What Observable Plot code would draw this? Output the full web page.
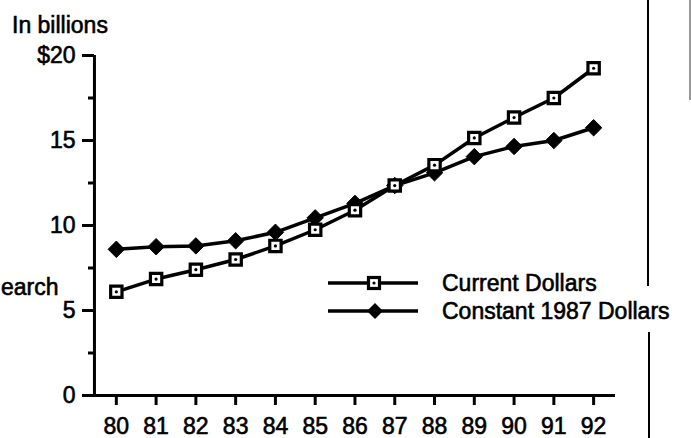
<!DOCTYPE html>
<html>
<head>
<meta charset="utf-8">
<script src="https://cdn.jsdelivr.net/npm/d3@7"></script>
<script src="https://cdn.jsdelivr.net/npm/@observablehq/plot@0.6"></script>
<style>
  html, body { margin: 0; padding: 0; background: #fff; }
  #wrap { position: relative; width: 691px; height: 438px; overflow: hidden; font-family: "Liberation Sans", Arial, sans-serif; color: #000; }
  #wrap svg { position: absolute; left: 0; top: 0; }
  #wrap svg text { stroke: #000; stroke-width: 0.6px; }
  .ov { position: absolute; -webkit-text-stroke: 0.6px #000; }
  .leg-row { position: absolute; left: 328px; height: 28px; display: flex; align-items: center; -webkit-text-stroke: 0.6px #000; }
  .leg-row span { font-size: 23px; margin-left: 24px; white-space: nowrap; line-height: 28px; }
</style>
</head>
<body>
<div id="wrap"></div>
<script>
// ---- data ----
const years = [80, 81, 82, 83, 84, 85, 86, 87, 88, 89, 90, 91, 92];
const currentDollars = [6.1, 6.85, 7.4, 8.0, 8.8, 9.75, 10.9, 12.35, 13.55, 15.15, 16.35, 17.5, 19.25];
const constant1987Dollars = [8.6, 8.75, 8.8, 9.1, 9.6, 10.45, 11.3, 12.35, 13.1, 14.05, 14.65, 15.0, 15.75];
const seriesNames = ["Current Dollars", "Constant 1987 Dollars"];
const yMajorTicks = [0, 5, 10, 15, 20];
const yMinorTicks = [2.5, 7.5, 12.5, 17.5];
const yTickLabels = ["0", "5", "10", "15", "$20"];
const unitLabel = "In billions";
const sideLabel = "earch";

// axis extents in data units
const xDomain = [79.25, 92.55];
const yAxisYear = 79.45;
const yDomain = [0, 20];

const current = years.map((y, i) => ({year: y, value: currentDollars[i]}));
const constant = years.map((y, i) => ({year: y, value: constant1987Dollars[i]}));

const chart = Plot.plot({
  width: 691,
  height: 438,
  marginTop: 55,
  marginBottom: 43,
  marginLeft: 94,
  marginRight: 76,
  style: {fontFamily: "Liberation Sans, Arial, sans-serif", fontSize: "23px", color: "#000", background: "transparent", overflow: "visible"},
  x: {domain: xDomain, range: [86, 615]},
  y: {domain: yDomain},
  marks: [
    Plot.ruleY([0], {x1: xDomain[0], x2: xDomain[1], stroke: "#000", strokeWidth: 3}),
    Plot.ruleX([yAxisYear], {y1: yDomain[0], y2: yDomain[1], stroke: "#000", strokeWidth: 3}),
    Plot.axisY({ticks: yMajorTicks, tickSize: 12, tickPadding: 7, strokeWidth: 3,
      tickFormat: d => yTickLabels[yMajorTicks.indexOf(d)], label: null, fontSize: 23}),
    Plot.axisY({ticks: yMinorTicks, tickSize: 6, tickPadding: 0, strokeWidth: 3, tickFormat: () => "", label: null}),
    Plot.axisX({ticks: years, tickSize: 10, tickPadding: 12, strokeWidth: 3,
      tickFormat: d => String(d), label: null, fontSize: 23}),
    Plot.line(constant, {x: "year", y: "value", stroke: "#000", strokeWidth: 3.5}),
    Plot.line(current, {x: "year", y: "value", stroke: "#000", strokeWidth: 3.5}),
    Plot.dot(constant, {x: "year", y: "value", symbol: "diamond2", r: 7.4, fill: "#000", stroke: "#000", strokeWidth: 1}),
    Plot.dot(current, {x: "year", y: "value", symbol: "square", r: 6.4, fill: "#fff", stroke: "#000", strokeWidth: 3.2}),
    Plot.dot(current, {x: "year", y: "value", r: 1.6, fill: "#000"})
  ]
});

const wrap = document.getElementById("wrap");
wrap.appendChild(chart);

function addDiv(style, html) {
  const d = document.createElement("div");
  d.className = "ov";
  Object.assign(d.style, style);
  if (html) d.innerHTML = html;
  wrap.appendChild(d);
  return d;
}

// right-hand border line (with gap behind legend)
addDiv({left: "647px", top: "0px", width: "2px", height: "286px", background: "#000"});
addDiv({left: "648px", top: "332px", width: "2px", height: "106px", background: "#000"});
addDiv({left: "689px", top: "0px", width: "2px", height: "100px", background: "#999"});

// unit label and side label
addDiv({left: "12px", top: "12px", fontSize: "23px", whiteSpace: "nowrap"}, unitLabel);
addDiv({left: "1px", top: "274px", fontSize: "23px", whiteSpace: "nowrap"}, sideLabel);

// legend
function legendRow(top, name, symbolSvg) {
  const row = document.createElement("div");
  row.className = "leg-row";
  row.style.top = top + "px";
  row.innerHTML = `<svg width="90" height="28" style="position:static">
      <line x1="0" x2="90" y1="14" y2="14" stroke="#000" stroke-width="3.5"/>${symbolSvg}</svg><span>${name}</span>`;
  wrap.appendChild(row);
}
legendRow(269, seriesNames[0],
  `<rect x="40.5" y="8.5" width="11" height="11" fill="#fff" stroke="#000" stroke-width="3.2"/><circle cx="46" cy="14" r="1.6" fill="#000"/>`);
legendRow(297, seriesNames[1],
  `<path d="M47,6 L55,14 L47,22 L39,14 Z" fill="#000"/>`);
</script>
</body>
</html>
